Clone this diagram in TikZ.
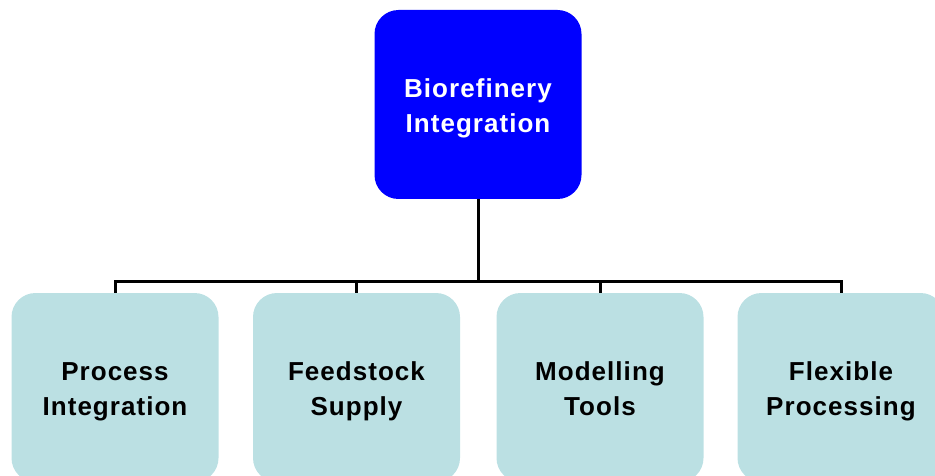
\documentclass[tikz,border=0pt]{standalone}
\usepackage{fontspec}
\newfontfamily\boxfont{Liberation Sans}[LetterSpace=4]
\definecolor{rootblue}{RGB}{0,0,255}
\definecolor{leafteal}{RGB}{187,224,227}
% struts so every two-line label is centred on its cap height and baseline
\newcommand{\topstrut}{\rule{0pt}{26.5pt}}
\newcommand{\botstrut}{\rule[-6pt]{0pt}{6pt}}
\newcommand{\twolines}[2]{\topstrut#1\\#2\botstrut}
\begin{document}
\begin{tikzpicture}[x=1pt,y=-1pt,
  boxbase/.style={rectangle, rounded corners=24pt, minimum width=207pt,
    minimum height=189pt, inner sep=0pt, align=center,
    font={\boxfont\bfseries\fontsize{26}{35}\selectfont}},
  rootbox/.style={boxbase, fill=rootblue, text=white},
  leafbox/.style={boxbase, fill=leafteal, text=black},
  wire/.style={line width=3pt, black}]
  \useasboundingbox (0,0) rectangle (935,476);
  \clip (0,0) rectangle (935,476);
  \node[rootbox] (root) at (478,104.5) {\twolines{Biorefinery}{Integration}};
  \node[leafbox] (c1) at (115,387.5) {\twolines{Process}{Integration}};
  \node[leafbox] (c2) at (356.5,387.5) {\twolines{Feedstock}{Supply}};
  \node[leafbox] (c3) at (600,387.5) {\twolines{Modelling}{Tools}};
  \node[leafbox] (c4) at (841,387.5) {\twolines{Flexible}{Processing}};
  \coordinate (bus) at (478,281);
  \draw[wire] (root.south) -- (bus);
  \draw[wire] (c1.north) -- (c1.north |- bus) -- (c4.north |- bus) -- (c4.north);
  \draw[wire] (c2.north) -- (c2.north |- bus);
  \draw[wire] (c3.north) -- (c3.north |- bus);
\end{tikzpicture}
\end{document}
